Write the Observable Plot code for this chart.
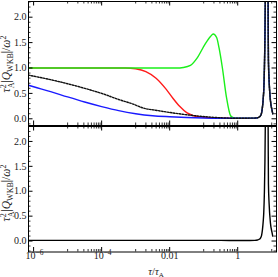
<!DOCTYPE html>
<html><head><meta charset="utf-8">
<script src="https://cdn.jsdelivr.net/npm/d3@7"></script>
<script src="https://cdn.jsdelivr.net/npm/@observablehq/plot@0.6"></script>
<style>body{margin:0;background:#fff}#chart svg{display:block}</style>
</head><body><div id="chart"></div>
<script>
// points as [log10(tau/tauA), value]
const tailFlat = [[0.0,0.01],[0.3,0.012],[0.5,0.014]];
const poleLeft = [[0.58,0.02],[0.63,0.035],[0.67,0.06],[0.70,0.11],[0.727,0.23],[0.75,0.4],[0.765,0.56],[0.785,1.0],[0.80,1.6],[0.815,2.6]];
const poleGap = [[0.85,NaN]];
const poleRight = [[0.890,3.0],[0.896,2.0],[0.903,1.15],[0.923,0.75],[0.962,0.36],[1.012,0.16],[1.029,0.10]];
const redPts = [[-6.15,1.0],[-3.3,1.0],[-3.0,0.985],[-2.7,0.93],[-2.4,0.80],[-2.1,0.58],[-1.9,0.40],[-1.7,0.24],[-1.5,0.12],[-1.3,0.06],[-1.0,0.03],[-0.7,0.015],[-0.3,0.01]];
const greenPts = [[-6.15,1.0],[-1.8,1.0],[-1.6,1.01],[-1.39,1.05],[-1.19,1.2],[-0.95,1.48],[-0.8,1.62],[-0.72,1.67],[-0.62,1.6],[-0.55,1.4],[-0.45,1.0],[-0.33,0.42],[-0.21,0.06],[-0.13,0.02],[-0.05,0.01]];
const bluePts = [[-6.15,0.66],[-6,0.63],[-5.5,0.535],[-5,0.43],[-4.5,0.33],[-4,0.24],[-3.5,0.16],[-3,0.10],[-2.5,0.06],[-2,0.04],[-1.5,0.025],[-1,0.015],[-0.5,0.01]];
const blackPts = [[-6.15,0.86],[-6,0.84],[-5.5,0.77],[-5,0.69],[-4.5,0.60],[-4,0.50],[-3.5,0.38],[-3,0.27],[-2.86,0.23],[-2.33,0.16],[-1.74,0.10],[-1.1,0.05],[-0.5,0.02]];
const bottomPts = [[-6.15,0.014],[-3,0.014],[-0.5,0.014]];

const xMajor = [1e-6,1e-4,1e-2,1];
const xMajorLabels = ["10^−6","10^−4","0.01","1"];
const xMinor = [];
for (const e of [-5,-3,-1,1]) for (let k=1;k<=9;k++) xMinor.push(k*10**e);
const yMajor = [0,0.5,1,1.5,2];
const yMinor = d3.range(-0.2,2.35,0.1).map(v=>+v.toFixed(1)).filter(v=>!yMajor.includes(v));

const W = 278;
const font = "Liberation Serif, Times New Roman, serif";
const full = pts => [...pts, ...tailFlat, ...poleLeft, ...poleGap, ...poleRight];

function panel({height, mt, mb, ydom, series, showX, titleY}) {
  const ml = 28, mr = 2;
  const ih = height - mt - mb, iw = W - ml - mr;
  const xd = [10**-6.15, 10**1.14];
  const yMin = yMinor.filter(v=>v>=ydom[0]&&v<=ydom[1]);
  const yMaj = yMajor.filter(v=>v>=ydom[0]&&v<=ydom[1]);
  const xMin = xMinor.filter(v=>v>=xd[0]&&v<=xd[1]);
  const marks = [];
  for (const s of series) {
    marks.push(Plot.line(s.data, {x: d=>10**d[0], y: d=>d[1], stroke: s.color, strokeWidth: 1.4,
      strokeDasharray: s.dash, curve: "monotone-x", clip: true}));
  }
  marks.push(
    Plot.tickX(xMajor, {x: d=>d, insetTop: ih-4.5, stroke:"#000"}),
    Plot.tickX(xMajor, {x: d=>d, insetBottom: ih-4.5, stroke:"#000"}),
    Plot.tickX(xMin, {x: d=>d, insetTop: ih-2.5, stroke:"#000", strokeWidth:0.8}),
    Plot.tickX(xMin, {x: d=>d, insetBottom: ih-2.5, stroke:"#000", strokeWidth:0.8}),
    Plot.tickY(yMaj, {y: d=>d, insetRight: iw-4.5, stroke:"#000"}),
    Plot.tickY(yMaj, {y: d=>d, insetLeft: iw-4.5, stroke:"#000"}),
    Plot.tickY(yMin, {y: d=>d, insetRight: iw-2.5, stroke:"#000", strokeWidth:0.8}),
    Plot.tickY(yMin, {y: d=>d, insetLeft: iw-2.5, stroke:"#000", strokeWidth:0.8}),
    Plot.text(yMaj, {y: d=>d, frameAnchor:"left", dx:-2, textAnchor:"end", text: d=>d3.format(".1f")(d), fontSize: 10, fill:"#222"}),
    Plot.frame({stroke:"#000", strokeWidth: 1})
  );
  if (showX) {
    marks.push(Plot.text(xMajor, {x: d=>d, frameAnchor:"bottom", dy: 7, text: (d,i)=>xMajorLabels[i], fontSize: 10, fill:"#222"}));
  }
  const svg = Plot.plot({
    width: W, height, marginLeft: ml, marginRight: mr, marginTop: mt, marginBottom: mb,
    style: {fontFamily: font, background: "transparent", overflow: "visible"},
    x: {type: "log", domain: xd, axis: null},
    y: {domain: ydom, axis: null},
    marks
  });
  // turn "10^−6" into 10 with a raised exponent
  d3.select(svg).selectAll("text").each(function() {
    const s = this.textContent;
    if (s.includes("^")) {
      const [b, e] = s.split("^");
      const el = d3.select(this);
      el.text(null).attr("text-anchor", "start").attr("dx", -8);
      el.append("tspan").text(b);
      el.append("tspan").attr("font-size", 7.5).attr("dy", -4).text(e);
    }
  });
  const t = d3.select(svg).append("text")
    .attr("transform", `translate(10,${titleY}) rotate(-90)`)
    .attr("text-anchor","middle").attr("font-family", font).attr("font-size", 11.5).attr("fill","#222");
  t.append("tspan").attr("font-style","italic").text("τ");
  t.append("tspan").attr("font-size",8).attr("dy",-4.5).text("2");
  t.append("tspan").attr("font-size",8).attr("dx",-4).attr("dy",8).text("A");
  t.append("tspan").attr("dy",-3.5).text("|");
  t.append("tspan").attr("font-style","italic").text("Q");
  t.append("tspan").attr("font-size",8).attr("dy",2.5).text("WKB");
  t.append("tspan").attr("dy",-2.5).text("|/");
  t.append("tspan").attr("font-style","italic").text("ω");
  t.append("tspan").attr("font-size",8).attr("dy",-4.5).text("2");
  if (showX) {
    const xt = d3.select(svg).append("text")
      .attr("x", 156).attr("y", height - 3)
      .attr("text-anchor","middle").attr("font-family", font).attr("font-size", 10.5).attr("fill","#222");
    xt.append("tspan").attr("font-style","italic").text("τ");
    xt.append("tspan").text("/");
    xt.append("tspan").attr("font-style","italic").text("τ");
    xt.append("tspan").attr("font-size",7).attr("dy",2).text("A");
  }
  return svg;
}

const topPanel = panel({height: 125.5, mt: 1, mb: 0.5, ydom: [-0.132, 2.309], showX: false, titleY: 64,
  series: [
    {data: full(redPts), color: "#ff1a1a"},
    {data: full(greenPts), color: "#1aef1a"},
    {data: full(bluePts), color: "#1a1aff"},
    {data: full(blackPts), color: "#111", dash: "1.6,1.4"}
  ]});
const bottomPanel = panel({height: 151.5, mt: 0, mb: 26, ydom: [-0.22, 2.3], showX: true, titleY: 67,
  series: [{data: full(bottomPts), color: "#000"}]});
document.getElementById("chart").append(topPanel, bottomPanel);
</script>
</body></html>
